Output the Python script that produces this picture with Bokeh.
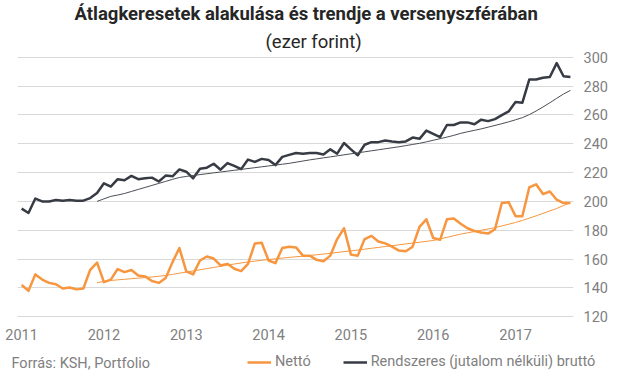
from bokeh.plotting import figure
from bokeh.layouts import column
from bokeh.models import Range1d, FixedTicker, Legend, LegendItem, Title, Label
from bokeh.embed import file_html
from bokeh.resources import INLINE

title_text = "Átlagkeresetek alakulása és trendje a versenyszférában"
subtitle_text = "(ezer forint)"
source_text = "Forrás: KSH, Portfolio"

year_labels = ["2011", "2012", "2013", "2014", "2015", "2016", "2017"]
year_tick_index = [0, 12, 24, 36, 48, 60, 72]
y_ticks = [120, 140, 160, 180, 200, 220, 240, 260, 280, 300]

netto = [142, 138, 149.4, 145.8, 143.5, 142.6, 139.6, 140.3, 139, 139.6, 152.6,
         157.6, 144, 145.8, 153.1, 151, 152.4, 148.7, 148, 144.8, 143.5,
         146.9, 157.9, 167.7, 151.5, 149.4, 159, 161.8, 160.4, 155.6, 156.7,
         153.3, 151.7, 156.7, 170.9, 171.3, 159, 157.2, 167.7, 168.6, 168.1,
         162.4, 162.4, 159.5, 158.5, 162.4, 173.9, 181.4, 163.1, 162.4, 173.9,
         176.1, 172.2, 170.9, 168.6, 165.9, 165.4, 168.6, 182.3, 187.6, 174.6,
         173.4, 187.6, 188.2, 184.5, 181.4, 179.5, 178.4, 177.7, 180.7, 198.9,
         199.4, 189.8, 189.8, 209.7, 211.9, 205.1, 206.9, 201.2, 198.9, 198.9]

brutto = [195, 192, 202, 200, 200, 201, 200.5, 201, 200.5, 200.5, 202.3,
          205.8, 212.6, 210.3, 215.4, 214.7, 217.7, 215.4, 216, 216.5, 213.8,
          217.9, 217.4, 222.2, 220.6, 216, 222.7, 223.4, 226.1, 222, 226.6,
          224.7, 222.4, 229, 227.4, 229.5, 228.8, 225.2, 230.9, 232.3, 233.6,
          233.1, 233.6, 233.6, 232.5, 236.1, 233.1, 240.5, 236.1, 232, 239.3,
          241.1, 241.1, 242.3, 241.6, 241.1, 241.6, 244.3, 243.4, 249.1, 246.8,
          244.6, 253, 253, 254.8, 254.8, 253.5, 256.7, 255.7, 257.1, 259.8,
          262.4, 269, 268.5, 284.5, 284.5, 285.8, 286.3, 295.9, 286.8, 286.3]

trend_start = 11
netto_trend = [143.7, 144.4, 145.2, 145.6, 146.0, 146.4, 146.8, 147.2, 147.6, 148.1,
               148.7, 149.4, 150.2, 151.0, 151.8, 152.6, 153.4, 154.2, 155.0, 155.8,
               156.6, 157.3, 158.0, 158.6, 159.2, 159.7, 160.2, 160.7, 161.2, 161.6,
               162.0, 162.5, 163.0, 163.5, 164.0, 164.6, 165.2, 165.7, 166.3, 166.9,
               167.5, 168.1, 168.7, 169.3, 169.9, 170.5, 171.1, 171.7, 172.3, 172.9,
               174.0, 175.1, 176.2, 177.3, 178.2, 179.1, 180.0, 180.9, 181.8, 183.0,
               184.2, 185.4, 186.8, 188.4, 190.0, 191.7, 193.4, 195.1, 197.2, 198.9]

brutto_trend = [200, 201.8, 203.5, 204.4, 205.5, 206.9, 208.3, 209.7, 211.1, 212.5,
                213.9, 215.3, 216.6, 217.3, 218, 218.6, 219.2, 219.8, 220.4, 221,
                221.6, 222.2, 222.8, 223.4, 224, 224.6, 225.2, 225.8, 226.4, 227.2,
                228, 228.8, 229.5, 230.2, 230.9, 231.6, 232.3, 233, 233.7, 234.4,
                235.1, 235.8, 236.5, 237.2, 237.9, 238.7, 239.5, 240.3, 241.3, 242.4,
                243.5, 244.6, 245.8, 247.2, 248.3, 249.3, 250.3, 251.5, 252.7, 253.9,
                255.2, 256.6, 258.1, 260.2, 262.7, 265.5, 268.4, 271.5, 274.5, 277]

months = list(range(len(netto)))
trend_months = list(range(trend_start, trend_start + len(netto_trend)))

ORANGE = "#F7963F"
DARK = "#373B44"
GRAY = "#808080"
FONT = "Roboto"
W = 622

# ---------------- main chart ----------------
p = figure(width=W, height=348, output_backend="svg", toolbar_location=None,
           title=None, x_range=Range1d(-0.6, 80.45), y_range=Range1d(119.5, 300.5),
           y_axis_location="right",
           min_border_left=17, min_border_right=W - 573, min_border_top=54, min_border_bottom=31)
p.frame_align = False
p.outline_line_color = None
p.background_fill_color = "white"
p.border_fill_color = "white"

p.xgrid.visible = False
p.ygrid.ticker = FixedTicker(ticks=y_ticks)
p.ygrid.grid_line_color = "#D9D9D9"
p.ygrid.grid_line_width = 1

yax = p.yaxis[0]
yax.ticker = FixedTicker(ticks=y_ticks)
yax.axis_line_color = None
yax.major_tick_line_color = None
yax.minor_tick_line_color = None
yax.major_tick_out = 0
yax.major_tick_in = 0
yax.major_label_standoff = 10
yax.major_label_text_font = FONT
yax.major_label_text_font_size = "14.5px"
yax.major_label_text_color = GRAY

xax = p.xaxis[0]
xax.ticker = FixedTicker(ticks=year_tick_index)
xax.major_label_overrides = {t: lab for t, lab in zip(year_tick_index, year_labels)}
xax.axis_line_color = None
xax.major_tick_line_color = None
xax.minor_tick_line_color = None
xax.major_tick_out = 0
xax.major_tick_in = 0
xax.major_label_standoff = 11
xax.major_label_text_font = FONT
xax.major_label_text_font_size = "14.5px"
xax.major_label_text_color = GRAY

p.line(months, netto, line_color=ORANGE, line_width=2.5, line_join="round")
p.line(months, brutto, line_color=DARK, line_width=2.5, line_join="round")
p.line(trend_months, netto_trend, line_color=ORANGE, line_width=1)
p.line(trend_months, brutto_trend, line_color="#4A4E55", line_width=1)

sub = Title(text=subtitle_text, align="left", offset=248, standoff=8,
            text_font=FONT, text_font_size="18.5px", text_font_style="normal",
            text_color="#262626")
main = Title(text=title_text, align="left", offset=57, standoff=0,
             text_font=FONT, text_font_size="18.5px", text_font_style="bold",
             text_color="#262626")
p.add_layout(sub, "above")
p.add_layout(main, "above")

# ---------------- footer: source + legend ----------------
FH = 29
f = figure(width=W, height=FH, output_backend="svg", toolbar_location=None,
           title=None, x_range=Range1d(0, W), y_range=Range1d(0, FH),
           x_axis_location=None, y_axis_location=None,
           min_border=0, min_border_left=0, min_border_right=0,
           min_border_top=0, min_border_bottom=0)
f.frame_align = False
f.outline_line_color = None
f.grid.visible = False
f.background_fill_color = "white"
f.border_fill_color = "white"

# legend keys: the same series, falling outside this strip's range (not visible)
leg_netto = f.line(months, netto, line_color=ORANGE, line_width=2.5)
leg_brutto = f.line(months, brutto, line_color=DARK, line_width=2.5)

legend = Legend(items=[LegendItem(label="Nettó", renderers=[leg_netto]),
                       LegendItem(label="Rendszeres (jutalom nélküli) bruttó", renderers=[leg_brutto])],
                location=(247, 7), orientation="horizontal",
                border_line_color=None, background_fill_alpha=0,
                padding=0, margin=0, spacing=32, glyph_width=24, glyph_height=16,
                label_standoff=4, label_text_font=FONT, label_text_font_size="14.5px",
                label_text_color=GRAY)
f.add_layout(legend, "center")

f.add_layout(Label(x=11, y=14, text=source_text, text_align="left", text_baseline="middle",
                   text_font=FONT, text_font_size="14.5px", text_color=GRAY))

layout = column(p, f, spacing=0)
open("out.html", "w").write(file_html(layout, INLINE))
